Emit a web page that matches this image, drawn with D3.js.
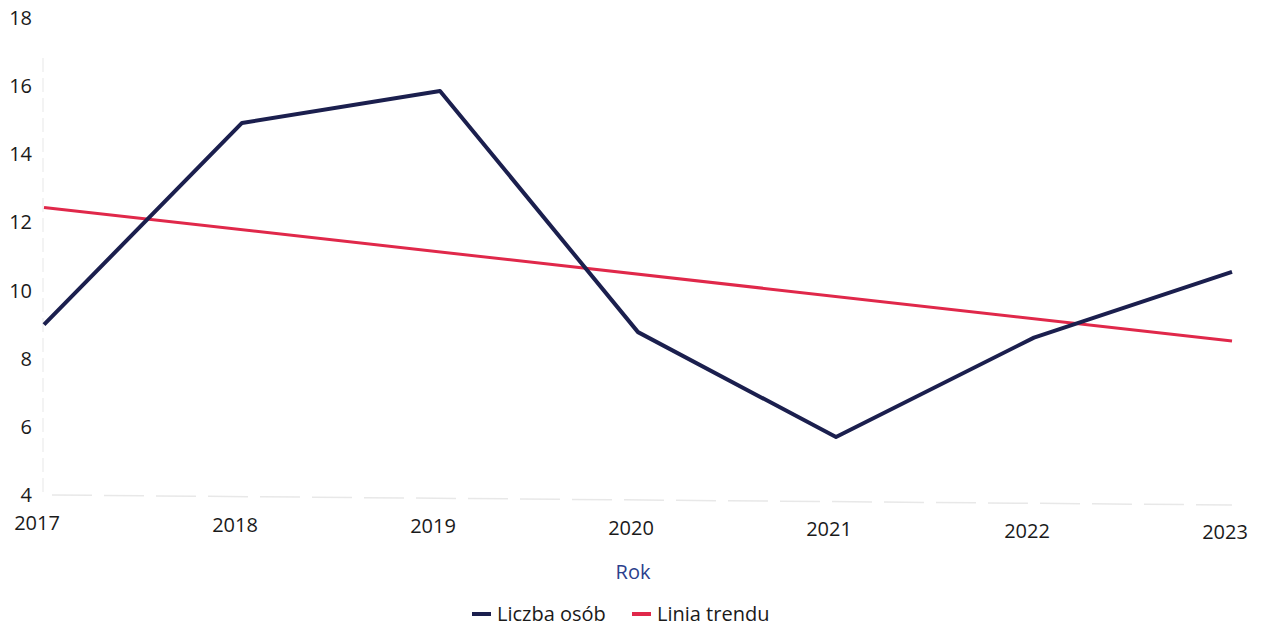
<!DOCTYPE html>
<html>
<head>
<meta charset="utf-8">
<script src="https://cdn.jsdelivr.net/npm/d3@7"></script>
<style>
  body { margin: 0; background: #fff; }
  text { font-family: "Open Sans", "Noto Sans", sans-serif; }
</style>
</head>
<body>
<div id="chart"></div>
<script>
// data
var years = [2017, 2018, 2019, 2020, 2021, 2022, 2023]
var liczbaOsob = [9.0, 14.92, 15.86, 8.78, 5.7, 8.62, 10.55]
var trend = [12.44, 8.52]   // start (2017) and end (2023) of the trend line
var yTicks = [4, 6, 8, 10, 12, 14, 16, 18]

var w = 1263, h = 632
var margin = { top: 18, right: 31, bottom: 137, left: 44 }

var svg = d3.select('#chart').append('svg')
  .attr('width', w)
  .attr('height', h)

var x = d3.scaleLinear()
  .domain([2017, 2023])
  .range([margin.left, w - margin.right])

var y = d3.scaleLinear()
  .domain([4, 18])
  .range([h - margin.bottom, margin.top])

// faint axis lines
svg.append('line')
  .attr('x1', margin.left - 1).attr('x2', margin.left - 1)
  .attr('y1', y(18) + 40).attr('y2', y(4))
  .attr('stroke', '#f0f0f0').attr('stroke-width', 1.5)
  .attr('stroke-dasharray', '14,6')

svg.append('line')
  .attr('x1', margin.left + 8).attr('x2', w - margin.right)
  .attr('y1', y(4)).attr('y2', y(4) + 10)
  .attr('stroke', '#e8e8e8').attr('stroke-width', 1.5)
  .attr('stroke-dasharray', '40,12')

// y tick labels
svg.selectAll('.ylab')
  .data(yTicks)
  .enter().append('text')
  .attr('class', 'ylab')
  .attr('x', 32)
  .attr('y', function(d) { return y(d) })
  .attr('dy', '0.35em')
  .attr('text-anchor', 'end')
  .attr('font-size', 20)
  .attr('fill', '#1a1a1a')
  .text(function(d) { return d })

// x tick labels
svg.selectAll('.xlab')
  .data(years)
  .enter().append('text')
  .attr('class', 'xlab')
  .attr('x', function(d) { return x(d) - 7 })
  .attr('y', function(d, i) { return 530 + i * 1.5 })
  .attr('text-anchor', 'middle')
  .attr('font-size', 20)
  .attr('fill', '#1a1a1a')
  .text(function(d) { return d })

// trend line
var trendPts = [[2017, trend[0]], [2023, trend[1]]]
svg.append('path')
  .datum(trendPts)
  .attr('d', d3.line().x(function(d) { return x(d[0]) }).y(function(d) { return y(d[1]) }))
  .attr('fill', 'none')
  .attr('stroke', '#e0284a')
  .attr('stroke-width', 3)

// main series
svg.append('path')
  .datum(years.map(function(d, i) { return [d, liczbaOsob[i]] }))
  .attr('d', d3.line().x(function(d) { return x(d[0]) }).y(function(d) { return y(d[1]) }))
  .attr('fill', 'none')
  .attr('stroke', '#1b1f4e')
  .attr('stroke-width', 4)
  .attr('stroke-linejoin', 'round')

// axis title
svg.append('text')
  .attr('x', 633)
  .attr('y', 572)
  .attr('dy', '0.35em')
  .attr('text-anchor', 'middle')
  .attr('font-size', 20)
  .attr('fill', '#2b3f8c')
  .text('Rok')

// legend
var legend = [
  { name: 'Liczba osób', color: '#1b1f4e', x: 472 },
  { name: 'Linia trendu', color: '#e0284a', x: 632 }
]
var lg = svg.selectAll('.legend')
  .data(legend)
  .enter().append('g')
  .attr('class', 'legend')
  .attr('transform', function(d) { return 'translate(' + d.x + ',614)' })

lg.append('rect')
  .attr('x', 0).attr('y', -2)
  .attr('width', 19).attr('height', 4)
  .attr('fill', function(d) { return d.color })

lg.append('text')
  .attr('x', 25)
  .attr('dy', '0.35em')
  .attr('font-size', 20)
  .attr('fill', '#1a1a1a')
  .text(function(d) { return d.name })
</script>
</body>
</html>
